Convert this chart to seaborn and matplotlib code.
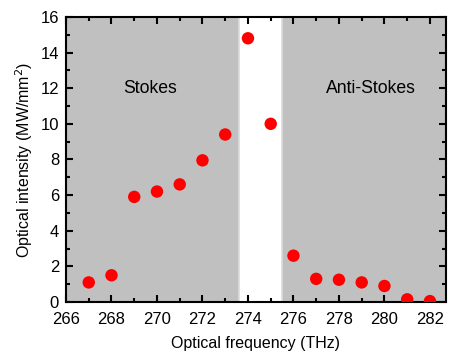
import matplotlib
matplotlib.use("Agg")
import matplotlib.pyplot as plt
import seaborn as sns
import pandas as pd

freq = [267, 268, 269, 270, 271, 272, 273, 274, 275, 276, 277, 278, 279, 280, 281, 282]
intensity = [1.1, 1.5, 5.9, 6.2, 6.6, 7.95, 9.4, 14.8, 10.0, 2.6, 1.3, 1.25, 1.1, 0.9, 0.15, 0.05]
regions = [(266, 273.6), (275.5, 283)]
region_labels = ["Stokes", "Anti-Stokes"]

sns.set_theme(style="ticks")
plt.rcParams['font.family'] = ['Liberation Sans', 'DejaVu Sans']
plt.rcParams['text.color'] = 'black'
plt.rcParams['axes.labelcolor'] = 'black'
plt.rcParams['xtick.color'] = 'black'
plt.rcParams['ytick.color'] = 'black'

fig = plt.figure(figsize=(4.49, 3.52), dpi=100)
ax = fig.add_axes([0.147, 0.142, 0.846, 0.81])

for (a, b) in regions:
    ax.axvspan(a, b, facecolor="#c0c0c0", edgecolor="#dcdcdc", linewidth=1.2, zorder=0)

df = pd.DataFrame({"f": freq, "I": intensity})
sns.scatterplot(data=df, x="f", y="I", ax=ax, color="#ff0000", s=80, edgecolor="none", zorder=3)

ax.text(269.7, 12, region_labels[0], ha="center", va="center", fontsize=12.7, color="black")
ax.text(279.4, 12, region_labels[1], ha="center", va="center", fontsize=12.7, color="black")

ax.set_xlim(266, 282.7)
ax.set_ylim(0, 16)
ax.set_xticks(range(266, 283, 2))
ax.set_xticks(range(266, 283, 1), minor=True)
ax.set_yticks(range(0, 17, 2))
ax.set_yticks(range(1, 16, 2), minor=True)
ax.tick_params(which="both", direction="in", top=True, right=True, width=1.5, labelsize=12, color="black", labelcolor="black")
ax.tick_params(which="major", length=5)
ax.tick_params(which="minor", length=3)
ax.tick_params(axis="x", pad=7)
ax.tick_params(axis="y", pad=5)
for s in ax.spines.values():
    s.set_linewidth(1.5)
    s.set_color("black")
ax.set_xlabel("Optical frequency (THz)", fontsize=11.5, labelpad=7, color="black")
ax.set_ylabel("Optical intensity (MW/mm$^2$)", fontsize=11.5, labelpad=4, color="black")

fig.savefig("out.png", dpi=100)
